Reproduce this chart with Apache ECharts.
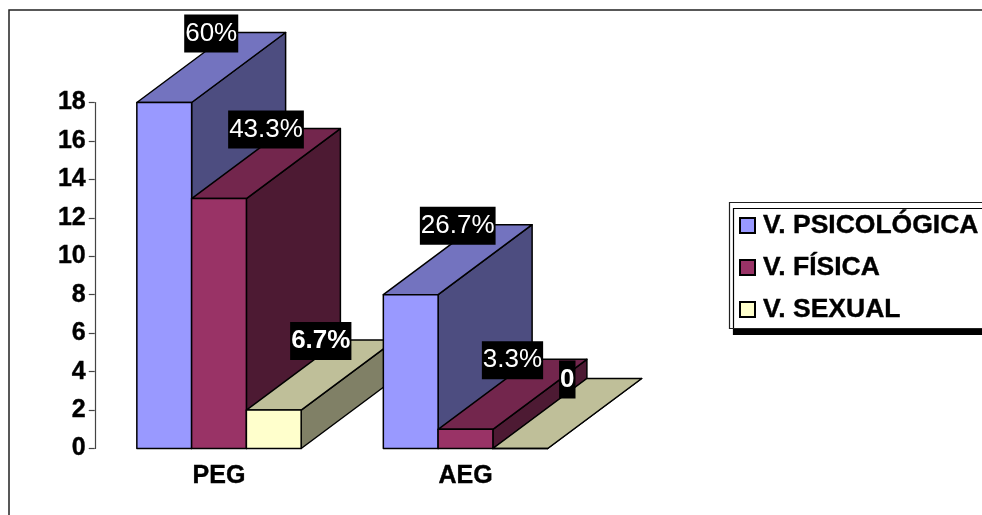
<!DOCTYPE html>
<html>
<head>
<meta charset="utf-8">
<style>
  html, body { margin: 0; padding: 0; background: #fff; overflow: hidden; }
  #chart { width: 982px; height: 515px; }
</style>
<script src="https://cdn.jsdelivr.net/npm/echarts@6/dist/echarts.min.js"></script>
</head>
<body>
<div id="chart"></div>
<script>
const categories = ['PEG', 'AEG'];
const seriesNames = ['V. PSICOLÓGICA', 'V. FÍSICA', 'V. SEXUAL'];
const psicologica = [18, 8];
const fisica = [13, 1];
const sexual = [2, 0];
const psicologicaLabels = ['60%', '26.7%'];
const fisicaLabels = ['43.3%', '3.3%'];
const sexualLabels = ['6.7%', '0'];

// front, top and side face colours of each block
const palette = [
  { front: '#9999FF', top: '#7373BF', side: '#4D4D80' },
  { front: '#993366', top: '#73264D', side: '#4D1A33' },
  { front: '#FFFFCC', top: '#BFBF99', side: '#808066' }
];
const DEPTH_X = 94;
const DEPTH_Y = -70;
const BARS_PER_BAND = 4.5;
const EDGE = { stroke: '#000', lineWidth: 1.5, lineJoin: 'round' };
const FONT = 'Liberation Sans, Arial, sans-serif';
const BOLD_TEXT = {
  color: '#000',
  fontFamily: FONT,
  fontWeight: 'bold',
  textBorderColor: '#000',
  textBorderWidth: 0.4
};

// Draws one pseudo-3D block per category: side, top, front faces and a value tag.
function blockRenderer(seriesIdx, labels, boldLabel) {
  return function (params, api) {
    const cat = api.value(0);
    const base = api.coord([cat, 0]);
    const top = api.coord([cat, api.value(1)]);
    const w = api.size([1, 0])[0] / BARS_PER_BAND;
    const x0 = base[0] + (seriesIdx - 1.5) * w;
    const x1 = x0 + w;
    const yB = base[1];
    const yT = top[1];
    const c = palette[seriesIdx];
    const order = cat * 10 + seriesIdx;
    const poly = (points, fill) => ({
      type: 'polygon',
      z2: order,
      shape: { points },
      style: Object.assign({ fill }, EDGE)
    });
    const children = [
      poly([[x1, yB], [x1 + DEPTH_X, yB + DEPTH_Y], [x1 + DEPTH_X, yT + DEPTH_Y], [x1, yT]], c.side),
      poly([[x0, yT], [x1, yT], [x1 + DEPTH_X, yT + DEPTH_Y], [x0 + DEPTH_X, yT + DEPTH_Y]], c.top),
      poly([[x0, yB], [x1, yB], [x1, yT], [x0, yT]], c.front),
      {
        type: 'text',
        z2: 100,
        style: {
          x: (x0 + x1) / 2 + DEPTH_X / 2,
          y: yT + DEPTH_Y + 1,
          text: labels[cat],
          align: 'center',
          verticalAlign: 'middle',
          fill: '#fff',
          font: (boldLabel ? 'bold ' : '') + '26px ' + FONT,
          backgroundColor: '#000',
          padding: [2, 1, 10, 1]
        }
      }
    ];
    return { type: 'group', children };
  };
}

function blockSeries(idx, values, labels, boldLabel) {
  return {
    type: 'custom',
    name: seriesNames[idx],
    coordinateSystem: 'cartesian2d',
    clip: false,
    itemStyle: { color: palette[idx].front, borderColor: '#000', borderWidth: 1.3 },
    encode: { x: 0, y: 1 },
    data: values.map((v, i) => [i, v]),
    renderItem: blockRenderer(idx, labels, boldLabel)
  };
}

const chart = echarts.init(document.getElementById('chart'), null, { renderer: 'canvas' });
chart.setOption({
  animation: false,
  backgroundColor: '#fff',
  graphic: [{
    type: 'rect',
    silent: true,
    shape: { x: 9, y: 10, width: 1100, height: 700 },
    style: { fill: 'none', stroke: '#222', lineWidth: 1.5 }
  }],
  grid: { left: 95.75, top: 102.5, width: 493, height: 346 },
  xAxis: {
    type: 'category',
    data: categories,
    axisLine: { show: false },
    axisTick: { show: false },
    axisLabel: Object.assign({ fontSize: 25, margin: 15 }, BOLD_TEXT)
  },
  yAxis: {
    type: 'value',
    min: 0,
    max: 18,
    interval: 2,
    offset: 1,
    splitLine: { show: false },
    axisLine: { show: true, lineStyle: { color: '#444', width: 1.2 } },
    axisTick: { show: true, length: 6, lineStyle: { color: '#444', width: 1.2 } },
    axisLabel: Object.assign({ fontSize: 25, margin: 9, padding: [4, 0, 0, 0] }, BOLD_TEXT)
  },
  legend: {
    orient: 'vertical',
    left: 729.5,
    top: 202.5,
    selectedMode: false,
    data: seriesNames.map(name => ({ name, icon: 'rect' })),
    padding: [9, 16, 5, 9.5],
    itemGap: 14,
    itemWidth: 15,
    itemHeight: 15,
    backgroundColor: '#fff',
    borderColor: '#222',
    borderWidth: 1.2,
    shadowColor: '#000',
    shadowBlur: 0,
    shadowOffsetX: 4,
    shadowOffsetY: 6,
    textStyle: Object.assign({ fontSize: 26.5, lineHeight: 28, padding: [0, 0, 0, 3] }, BOLD_TEXT)
  },
  series: [
    blockSeries(0, psicologica, psicologicaLabels, false),
    blockSeries(1, fisica, fisicaLabels, false),
    blockSeries(2, sexual, sexualLabels, true)
  ]
});
</script>
</body>
</html>
